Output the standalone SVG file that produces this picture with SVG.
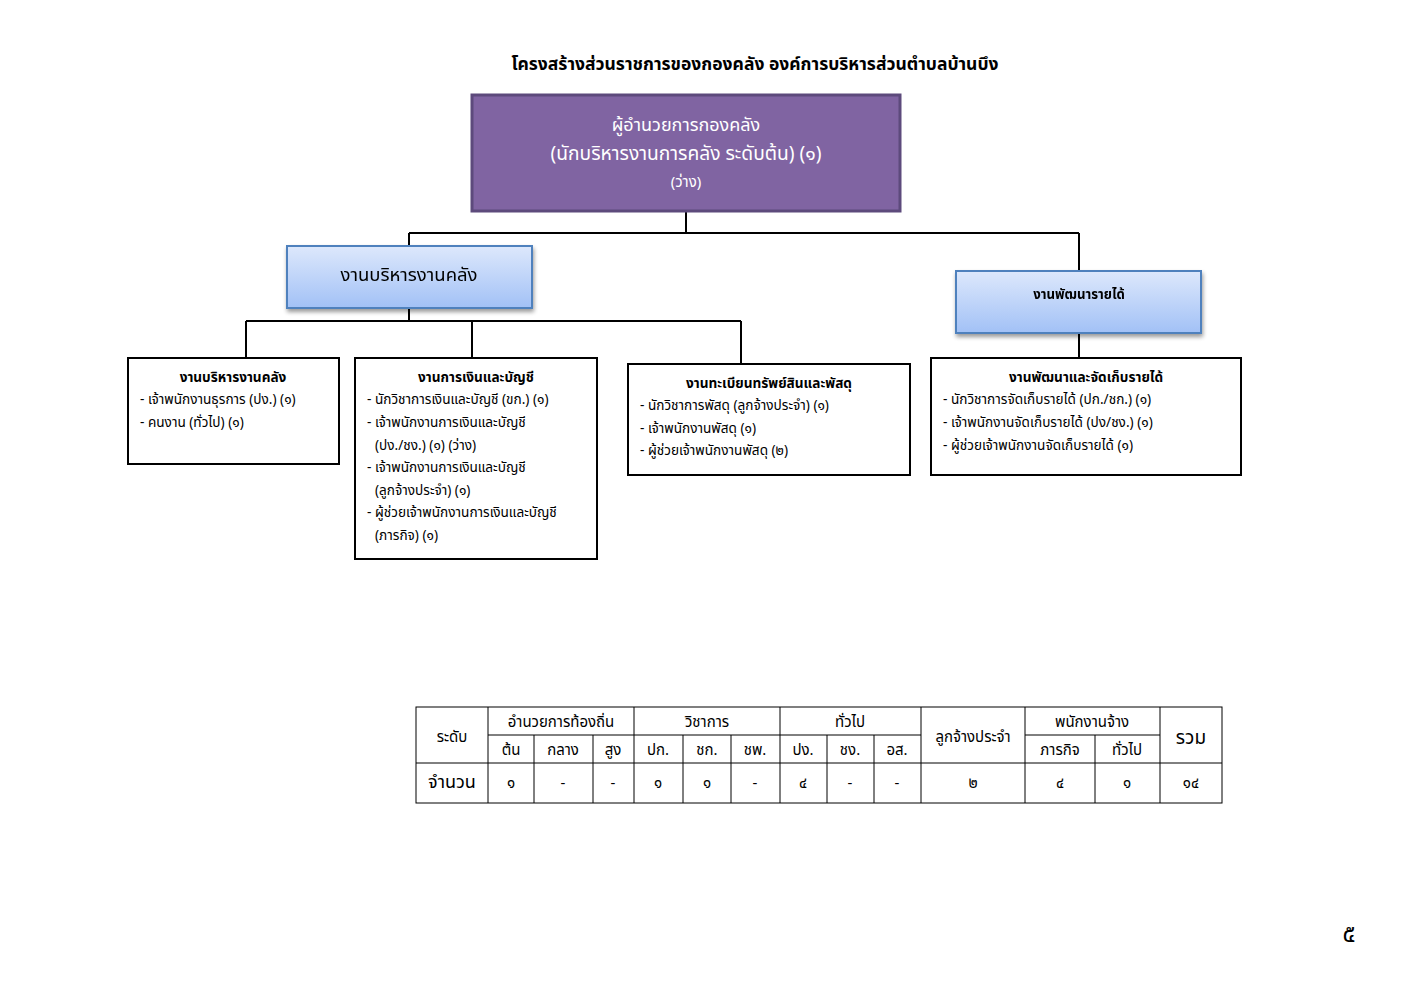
<svg xmlns="http://www.w3.org/2000/svg" width="1403" height="992" viewBox="0 0 1403 992">
<style>
text{font-family:"Noto Sans Thai","Noto Sans","DejaVu Sans",sans-serif;fill:#000}
.t{font-size:17.5px;font-weight:bold}
.w{fill:#fff;font-size:18px}
.c{text-anchor:middle}
.b{font-weight:bold}
.s{font-size:13.6px}
.tb{font-size:15px}
.ln{stroke:#000;stroke-width:2;fill:none}
.bx{fill:#fff;stroke:#000;stroke-width:2}
.bl{fill:url(#g);stroke:#4F81BD;stroke-width:2}
.cell{stroke:#000;stroke-width:1;fill:none}
</style>
<defs>
<linearGradient id="g" x1="0" y1="0" x2="0" y2="1"><stop offset="0" stop-color="#DDE8FC"/><stop offset="1" stop-color="#A2C1F6"/></linearGradient>
<filter id="sh" x="-10%" y="-10%" width="130%" height="140%"><feGaussianBlur in="SourceAlpha" stdDeviation="2"/><feOffset dx="1" dy="3"/><feComponentTransfer><feFuncA type="linear" slope="0.4"/></feComponentTransfer><feMerge><feMergeNode/><feMergeNode in="SourceGraphic"/></feMerge></filter>
</defs>
<rect width="1403" height="992" fill="#fff"/>
<text class="t c" x="755" y="70">โครงสร้างส่วนราชการของกองคลัง องค์การบริหารส่วนตำบลบ้านบึง</text>
<g id="connectors">
<path class="ln" d="M686 211V233M409 233H1079M409 233V246M1079 233V271"/>
<path class="ln" d="M409 308V321M246 321H741M246 321V358M472 321V358M741 321V364M1079 333V358"/>
</g>
<g id="director">
<rect x="472" y="95" width="428" height="116" fill="#8064A2" stroke="#5D4A7C" stroke-width="3"/>
<text class="w c" x="686" y="131">ผู้อำนวยการกองคลัง</text>
<text class="w c" x="686" y="160" style="font-size:19.2px">(นักบริหารงานการคลัง ระดับต้น) (๑)</text>
<text class="w c" x="686" y="187" style="font-size:15px">(ว่าง)</text>
</g>
<g id="admin" filter="url(#sh)">
<rect class="bl" x="287" y="246" width="245" height="62"/>
<text class="c" x="409" y="281" style="font-size:18.5px">งานบริหารงานคลัง</text>
</g>
<g id="revenue" filter="url(#sh)">
<rect class="bl" x="956" y="271" width="245" height="62"/>
<text class="c b" x="1079" y="299" style="font-size:13.2px">งานพัฒนารายได้</text>
</g>
<g id="admin-unit">
<rect class="bx" x="128" y="358" width="211" height="106"/>
<text class="s c b" x="233" y="382">งานบริหารงานคลัง</text>
<text class="s" x="140" y="404">- เจ้าพนักงานธุรการ (ปง.) (๑)</text>
<text class="s" x="140" y="427">- คนงาน (ทั่วไป) (๑)</text>
</g>
<g id="finance-unit">
<rect class="bx" x="355" y="358" width="242" height="201"/>
<text class="s c b" x="476" y="382">งานการเงินและบัญชี</text>
<text class="s" x="367" y="404">- นักวิชาการเงินและบัญชี (ขก.) (๑)</text>
<text class="s" x="367" y="427">- เจ้าพนักงานการเงินและบัญชี</text>
<text class="s" x="375" y="450">(ปง./ชง.)  (๑)  (ว่าง)</text>
<text class="s" x="367" y="472">- เจ้าพนักงานการเงินและบัญชี</text>
<text class="s" x="375" y="495">(ลูกจ้างประจำ)  (๑)</text>
<text class="s" x="367" y="517">- ผู้ช่วยเจ้าพนักงานการเงินและบัญชี</text>
<text class="s" x="375" y="540">(ภารกิจ)  (๑)</text>
</g>
<g id="asset-unit">
<rect class="bx" x="628" y="364" width="282" height="111"/>
<text class="s c b" x="769" y="388">งานทะเบียนทรัพย์สินและพัสดุ</text>
<text class="s" x="640" y="410">- นักวิชาการพัสดุ (ลูกจ้างประจำ) (๑)</text>
<text class="s" x="640" y="433">- เจ้าพนักงานพัสดุ (๑)</text>
<text class="s" x="640" y="455">- ผู้ช่วยเจ้าพนักงานพัสดุ (๒)</text>
</g>
<g id="revenue-unit">
<rect class="bx" x="931" y="358" width="310" height="117"/>
<text class="s c b" x="1086" y="382">งานพัฒนาและจัดเก็บรายได้</text>
<text class="s" x="943" y="404">- นักวิชาการจัดเก็บรายได้ (ปก./ชก.) (๑)</text>
<text class="s" x="943" y="427">- เจ้าพนักงานจัดเก็บรายได้ (ปง/ชง.) (๑)</text>
<text class="s" x="943" y="450">- ผู้ช่วยเจ้าพนักงานจัดเก็บรายได้ (๑)</text>
</g>
<g id="table">
<rect class="cell" x="416" y="707" width="806" height="96"/>
<path class="cell" d="M488 735H921M1025 735H1160M416 763H1222M488 707V803M534 735V803M593 735V803M634 707V803M683 735V803M731 735V803M780 707V803M827 735V803M874 735V803M921 707V803M1025 707V803M1095 735V803M1160 707V803"/>
<g class="tb">
<text class="c tb" x="452" y="742">ระดับ</text>
<text class="c tb" x="561" y="727">อำนวยการท้องถิ่น</text>
<text class="c tb" x="707" y="727">วิชาการ</text>
<text class="c tb" x="850" y="727">ทั่วไป</text>
<text class="c tb" x="973" y="742">ลูกจ้างประจำ</text>
<text class="c tb" x="1092" y="727">พนักงานจ้าง</text>
<text class="c" x="1191" y="744" style="font-size:19px">รวม</text>
<text class="c tb" x="511" y="755">ต้น</text>
<text class="c tb" x="563" y="755">กลาง</text>
<text class="c tb" x="613" y="755">สูง</text>
<text class="c tb" x="658" y="755">ปก.</text>
<text class="c tb" x="707" y="755">ชก.</text>
<text class="c tb" x="755" y="755">ชพ.</text>
<text class="c tb" x="803" y="755">ปง.</text>
<text class="c tb" x="850" y="755">ชง.</text>
<text class="c tb" x="897" y="755">อส.</text>
<text class="c tb" x="1060" y="755">ภารกิจ</text>
<text class="c tb" x="1127" y="755">ทั่วไป</text>
<text class="c" x="452" y="788" style="font-size:18px">จำนวน</text>
<text class="c tb" x="511" y="788">๑</text>
<text class="c tb" x="563" y="788">-</text>
<text class="c tb" x="613" y="788">-</text>
<text class="c tb" x="658" y="788">๑</text>
<text class="c tb" x="707" y="788">๑</text>
<text class="c tb" x="755" y="788">-</text>
<text class="c tb" x="803" y="788">๔</text>
<text class="c tb" x="850" y="788">-</text>
<text class="c tb" x="897" y="788">-</text>
<text class="c tb" x="973" y="788">๒</text>
<text class="c tb" x="1060" y="788">๔</text>
<text class="c tb" x="1127" y="788">๑</text>
<text class="c tb" x="1191" y="788">๑๔</text>
</g>
</g>
<text class="c" x="1349" y="942" style="font-size:24px">๕</text>
</svg>
